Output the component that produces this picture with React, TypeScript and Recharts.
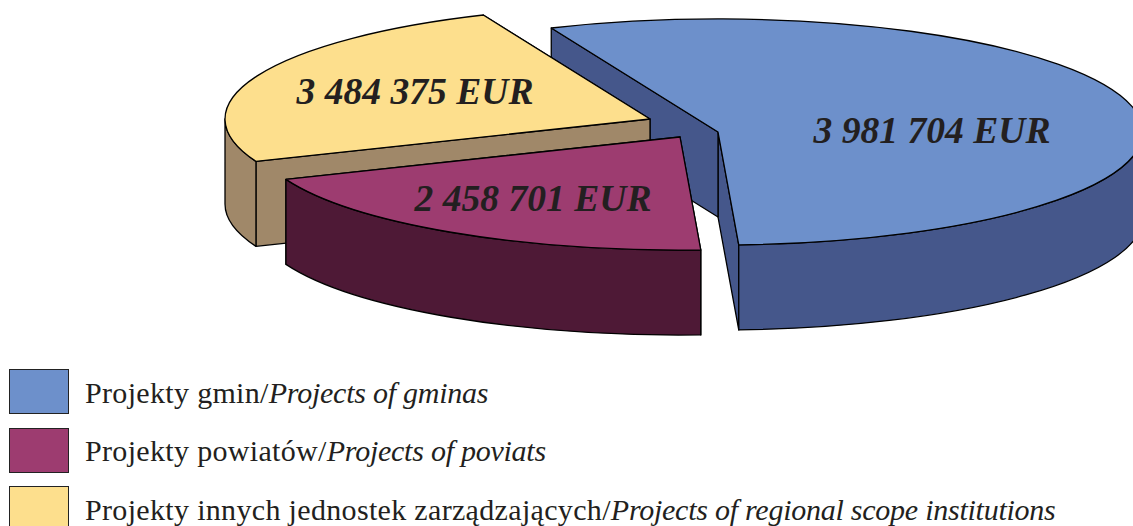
import React from "react";
import { PieChart, Pie, Legend } from "recharts";

// Drawn sizes of the slices, in degrees, as they appear in the picture (the original is not to scale)
const sliceNames = ["gminas", "regional", "poviats"];
const drawnDegrees = [200.3, 88.9, 70.8];
const amountsEur = [3981704, 3484375, 2458701];
const topColors = ["#6D90CB", "#FDDF8D", "#9D3C70"];
const sideColors = ["#45578B", "#A08869", "#4E1936"];

const legendOrder = ["gminas", "poviats", "regional"];
const legendPolish: Record<string, string> = {
  gminas: "Projekty gmin/",
  poviats: "Projekty powiatów/",
  regional: "Projekty innych jednostek zarządzających/",
};
const legendEnglish: Record<string, string> = {
  gminas: "Projects of gminas",
  poviats: "Projects of poviats",
  regional: "Projects of regional scope institutions",
};

const tableData = sliceNames.map((name, i) => ({
  name,
  degrees: drawnDegrees[i],
  amount: amountsEur[i],
  fill: topColors[i],
  side: sideColors[i],
}));

// Layout
const SQUASH = 0.266;
const DEPTH = 85;
const explode: Record<string, [number, number]> = {
  gminas: [38, 7],
  regional: [-30, -6],
  poviats: [0, 12],
};
const labelAt: Record<string, [number, number]> = {
  gminas: [214, -2],
  regional: [-235, -28],
  poviats: [-147, 61],
};

const rad = (d: number) => (d * Math.PI) / 180;
const fmt = (v: number) =>
  String(v).replace(/\B(?=(\d{3})+(?!\d))/g, " ") + " EUR";

function Slice3D(props: any) {
  const { cx, cy, outerRadius: rx, startAngle, endAngle, fill, payload } = props;
  const name = props.name ?? payload?.name;
  const side = props.side ?? payload?.side;
  const amount = props.amount ?? payload?.amount;
  const [dx, dy] = explode[name];
  const ox = cx + dx;
  const oy = cy + dy;
  const ry = rx * SQUASH;
  const a1 = Math.min(startAngle, endAngle);
  const a2 = Math.max(startAngle, endAngle);
  const px = (a: number) => ox + rx * Math.cos(rad(a));
  const py = (a: number) => oy - ry * Math.sin(rad(a));
  const large = a2 - a1 > 180 ? 1 : 0;

  const top = `M${ox},${oy} L${px(a1)},${py(a1)} A${rx},${ry} 0 ${large} 0 ${px(a2)},${py(a2)} Z`;
  const radial = (a: number) =>
    `M${ox},${oy} L${px(a)},${py(a)} L${px(a)},${py(a) + DEPTH} L${ox},${oy + DEPTH} Z`;

  // the rim shows only on the front half of the ellipse (180..360 degrees)
  const ranges: [number, number][] = [];
  for (const [lo, hi] of [[-180, 0], [180, 360]]) {
    const s = Math.max(a1, lo);
    const e = Math.min(a2, hi);
    if (e > s) ranges.push([s, e]);
  }
  const rims = ranges.map(
    ([s, e]) =>
      `M${px(s)},${py(s)} A${rx},${ry} 0 0 0 ${px(e)},${py(e)} L${px(e)},${py(e) + DEPTH} A${rx},${ry} 0 0 1 ${px(s)},${py(s) + DEPTH} Z`,
  );
  const [lx, ly] = labelAt[name];
  const edge = { stroke: "#000", strokeWidth: 1.3, strokeLinejoin: "round" as const };
  return (
    <g>
      <path d={radial(a1)} fill={side} {...edge} />
      <path d={radial(a2)} fill={side} {...edge} />
      {rims.map((d, i) => (
        <path key={i} d={d} fill={side} {...edge} />
      ))}
      <path d={top} fill={fill} {...edge} />
      <text
        x={ox + lx}
        y={oy + ly}
        textAnchor="middle"
        dominantBaseline="central"
        fontFamily="'Liberation Serif', serif"
        fontWeight="bold"
        fontStyle="italic"
        fontSize={37.6}
        fill="#231F20"
      >
        {fmt(amount)}
      </text>
    </g>
  );
}

function LegendRows(props: any) {
  const payload = props.payload ?? [];
  const rows = legendOrder.map((n) => payload.find((p: any) => p.value === n)).filter(Boolean);
  return (
    <div style={{ position: "relative", width: 1133 }}>
      {rows.map((p: any) => (
        <div
          key={p.value}
          style={{ display: "flex", alignItems: "center", height: 45, marginBottom: 13.7 }}
        >
          <div
            style={{
              width: 58,
              height: 43,
              marginLeft: 9,
              background: p.color,
              border: "1px solid #222",
              flex: "none",
            }}
          />
          <div
            style={{
              marginLeft: 16,
              paddingTop: 2,
              fontFamily: "'Liberation Serif', serif",
              fontSize: 30,
              color: "#231F20",
              whiteSpace: "nowrap",
              letterSpacing: 0.33,
            }}
          >
            {legendPolish[p.value]}
            <i style={{ letterSpacing: -0.25 }}>{legendEnglish[p.value]}</i>
          </div>
        </div>
      ))}
    </div>
  );
}

export default function App() {
  return (
    <div style={{ position: "absolute", left: 0, top: 0, width: 1133, height: 526, overflow: "hidden", background: "#fff" }}>
      <PieChart width={1133} height={526} margin={{ top: 0, right: 0, bottom: 0, left: 0 }}>
        <Pie
          data={tableData}
          dataKey="degrees"
          nameKey="name"
          cx={680}
          cy={125}
          innerRadius={0}
          outerRadius={425}
          startAngle={-87.2}
          endAngle={272.8}
          stroke="none"
          label={false}
          labelLine={false}
          isAnimationActive={false}
          shape={Slice3D}
        />
        <Legend
          content={LegendRows}
          wrapperStyle={{ position: "absolute", left: 0, top: 369, width: 1133, height: 157, overflow: "hidden" }}
        />
      </PieChart>
    </div>
  );
}
